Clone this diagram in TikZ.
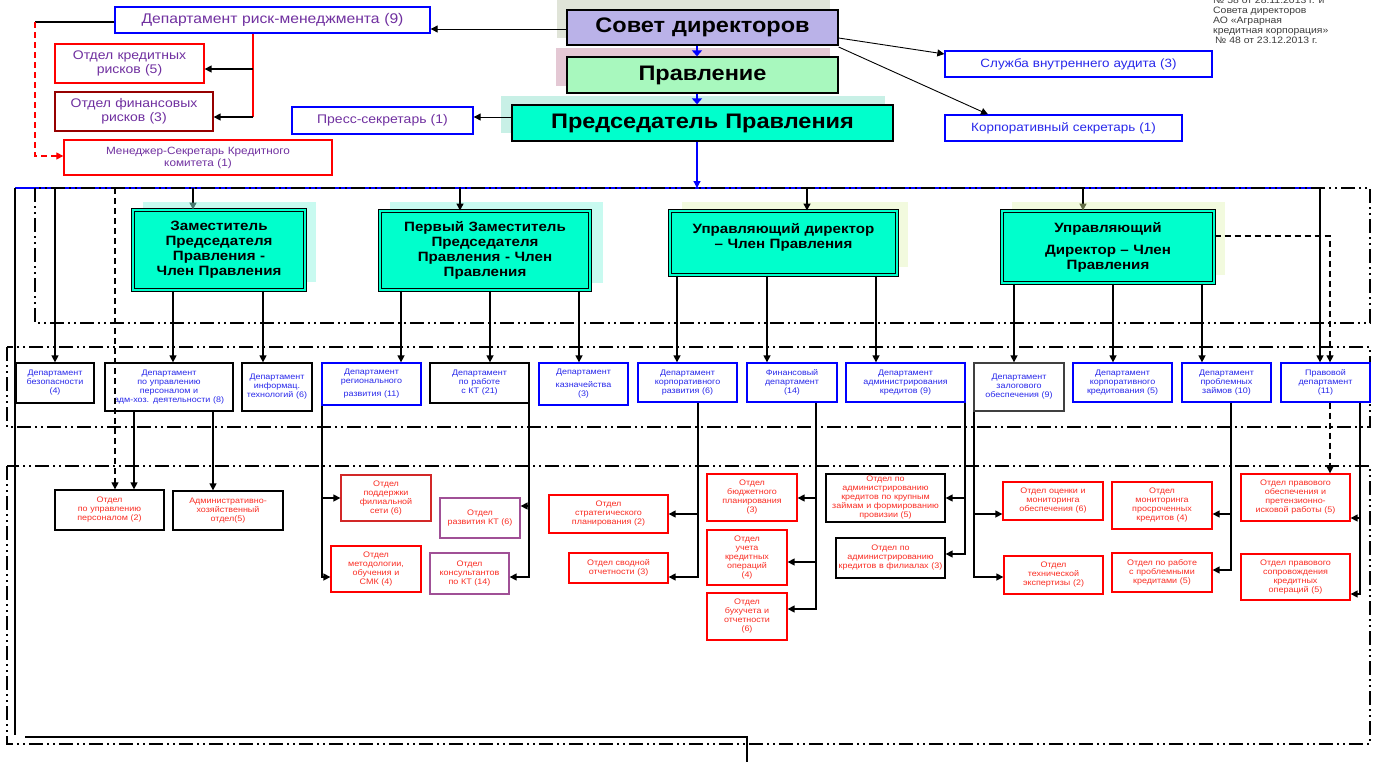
\documentclass[tikz,border=0pt]{standalone}
\usepackage{fontspec}
\setmainfont{Liberation Sans}[FakeStretch=1.12]
\usetikzlibrary{arrows.meta}
\definecolor{blueB}{RGB}{0,0,255}
\definecolor{blueT}{RGB}{40,40,235}
\definecolor{redB}{RGB}{255,0,0}
\definecolor{redT}{RGB}{250,45,35}
\definecolor{purT}{RGB}{112,48,160}
\definecolor{dred}{RGB}{150,0,0}
\definecolor{purB}{RGB}{160,80,150}
\definecolor{secdr}{RGB}{210,40,40}
\definecolor{vpfill}{RGB}{0,255,204}
\definecolor{sovfill}{RGB}{186,178,232}
\definecolor{pravfill}{RGB}{168,248,190}
\definecolor{sovsh}{RGB}{224,228,216}
\definecolor{pravsh}{RGB}{228,200,212}
\definecolor{predsh}{RGB}{200,240,230}
\definecolor{cysh}{RGB}{200,250,240}
\definecolor{ylsh}{RGB}{242,250,222}
\definecolor{hdr}{RGB}{60,60,60}
\definecolor{tealtip}{RGB}{70,120,110}
\definecolor{olivetip}{RGB}{100,110,70}
\newcommand\bx[7]{%
 \pgfmathsetmacro\bxw{#4-#2}\pgfmathsetmacro\bxh{#5-#3}%
 \pgfmathsetmacro\bxcx{(#2+#4)/2}\pgfmathsetmacro\bxcy{(#3+#5)/2}%
 \pgfmathsetmacro\bxtw{#4-#2-4}%
 \node[#6, minimum width=\bxw pt, minimum height=\bxh pt, text width=\bxtw pt] (#1) at (\bxcx,\bxcy) {#7};}
\tikzset{
 every node/.style={inner sep=1pt, align=center},
 dep/.style={draw=blueB, line width=1.3pt, fill=white, font=\fontsize{8}{9}\selectfont, text=blueT},
 depk/.style={dep, draw=black},
 sec/.style={draw=redB, line width=1.3pt, fill=white, font=\fontsize{8}{9}\selectfont, text=redT},
 seck/.style={sec, draw=black},
 secp/.style={sec, draw=purB},
 vp/.style={draw=black, line width=1pt, double=vpfill, double distance=2pt, fill=vpfill, font=\fontsize{13.5}{15}\selectfont\bfseries},
 topb/.style={draw=black, line width=1.3pt, font=\fontsize{21}{24}\selectfont\bfseries},
 riskb/.style={draw=blueB, line width=1.3pt, fill=white, font=\fontsize{12.5}{14.5}\selectfont, text=purT},
 riskr/.style={riskb, draw=redB},
 audb/.style={riskb, text=blueT, font=\fontsize{12}{14}\selectfont},
 ln/.style={line width=1.4pt},
 arr/.style={line width=1.4pt, -{Triangle[length=7pt,width=7pt]}},
 arrthin/.style={line width=0.9pt, -{Triangle[length=7pt,width=7pt]}},
 barr/.style={blueB, line width=2.5pt, -{Triangle[length=6pt,width=10pt]}},
 darr/.style={line width=1.2pt, dash pattern=on 6pt off 4pt, -{Triangle[length=7pt,width=7pt]}},
 rdash/.style={redB, line width=1.2pt, dash pattern=on 6pt off 4pt},
 ddot/.style={line width=1.5pt, dash pattern=on 14pt off 4pt on 2pt off 4pt on 2pt off 4pt},
}
\begin{document}
\begin{tikzpicture}[x=1pt,y=-1pt]
\useasboundingbox (0,0) rectangle (1376,761);
\foreach \v in {15,25,35,55,115,134,173,193,213,253,263,322,401,460,490,529,579,677,697,698,747,767,807,816,876,965,974,988,1014,1083,1113,1202,1231,1320,1330,1360}
  \coordinate (X\v) at (\v,0);
\foreach \v in {22,29,38,47,54,69,117,156,188,236,498,506,514,518,554,562,570,577,594,609,735,737,765}
  \coordinate (Y\v) at (0,\v);
% shadows
\fill[sovsh] (557,0) rectangle (830,38);
\fill[pravsh] (556,48) rectangle (830,86);
\fill[predsh] (501,96) rectangle (885,133);
\fill[cysh] (143,202) rectangle (316,282);
\fill[cysh] (390,202) rectangle (603,283);
\fill[ylsh] (682,202) rectangle (908,267);
\fill[ylsh] (1012,202) rectangle (1225,275);
% header text
\node[anchor=north west, align=left, font=\fontsize{9.3}{10}\selectfont, text=hdr, inner sep=0] (hdr) at (1213,-3.5) {№ 58 от 28.11.2013 г. и\\Совета директоров\\АО «Аграрная\\кредитная корпорация»\\\hspace{2pt}№ 48 от 23.12.2013 г.};
% top boxes
\bx{risk}{115}{7}{430}{33}{riskb, font=\fontsize{14}{16}\selectfont}{Департамент риск-менеджмента (9)}
\bx{kr}{55}{44}{204}{83}{riskr}{Отдел кредитных\\рисков (5)}
\bx{fr}{55}{92}{213}{131}{riskr, draw=dred}{Отдел финансовых\\рисков (3)}
\bx{mgr}{64}{140}{332}{175}{riskr, font=\fontsize{10.5}{12}\selectfont}{Менеджер-Секретарь Кредитного\\комитета (1)}
\bx{press}{292}{107}{473}{134}{riskb}{Пресс-секретарь (1)}
\bx{audit}{945}{51}{1212}{77}{audb}{Служба внутреннего аудита (3)}
\bx{corp}{945}{115}{1182}{141}{audb}{Корпоративный секретарь (1)}
\bx{sov}{567}{10}{838}{45}{topb, fill=sovfill}{Совет директоров}
\bx{pravl}{567}{57}{838}{93}{topb, fill=pravfill}{Правление}
\bx{pred}{512}{105}{893}{141}{topb, fill=vpfill}{Председатель Правления}
% top connectors
\draw[ln] (risk.west |- Y22) -- (X35 |- Y22);
\draw[rdash, -{Triangle[length=7pt,width=7pt]}] (X35 |- Y22) -- (X35 |- Y156) -- (mgr.west |- Y156);
\draw[ln, redB] (risk.south -| X253) -- (X253 |- Y117);
\draw[arr] (X253 |- Y69) -- (kr.east |- Y69);
\draw[arr] (X253 |- Y117) -- (fr.east |- Y117);
\draw[arrthin] (sov.west |- Y29) -- (risk.east |- Y29);
\draw[barr] (sov.south -| X697) -- (pravl.north -| X697);
\draw[barr] (pravl.south -| X697) -- (pred.north -| X697);
\draw[arrthin] (pred.west |- Y117) -- (press.east |- Y117);
\draw[arrthin] (sov.east |- Y38) -- (audit.west |- Y54);
\draw[arrthin] (sov.east |- Y47) -- (corp.north -| X988);
% bus and frames
\draw[blueB, line width=1.5pt] (X15 |- Y188) -- (X1320 |- Y188);
\draw[blueB, line width=1.2pt, -{Triangle[length=7pt,width=7pt]}] (pred.south -| X697) -- (X697 |- Y188);
\draw[ln] (X15 |- Y188) -- (X15 |- Y735);
\draw[ln] (X25 |- Y737) -- (X747 |- Y737) -- (X747 |- Y765);
\draw[ddot] (35,188) rectangle (1370,323);
\draw[ddot] (7,347) rectangle (1370,427);
\draw[ddot] (7,466) rectangle (1370,744);
% VP boxes
\bx{v1}{133}{210}{305}{290}{vp}{Заместитель\\Председателя\\Правления -\\Член Правления}
\bx{v2}{380}{211}{590}{290}{vp}{Первый Заместитель\\Председателя\\Правления - Член\\Правления}
\bx{v3}{670}{211}{897}{275}{vp}{Управляющий директор\\– Член Правления\\\mbox{}}
\bx{v4}{1002}{211}{1214}{283}{vp}{Управляющий\\[7pt]Директор – Член\\Правления}
% departments
\bx{d1}{16}{363}{94}{403}{depk}{Департамент\\безопасности\\(4)}
\bx{d2}{105}{363}{233}{411}{depk}{Департамент\\по управлению\\персоналом и\\адм-хоз. деятельности (8)}
\bx{d3}{242}{363}{312}{411}{depk}{Департамент\\информац.\\технологий (6)}
\bx{d4}{322}{363}{421}{405}{dep}{Департамент\\регионального\\[4pt]развития (11)}
\bx{d5}{430}{363}{529}{403}{depk}{Департамент\\по работе\\с КТ (21)}
\bx{d6}{539}{363}{628}{405}{dep}{Департамент\\[4pt]казначейства\\(3)}
\bx{d7}{638}{363}{737}{402}{dep}{Департамент\\корпоративного\\развития (6)}
\bx{d8}{747}{363}{837}{402}{dep}{Финансовый\\департамент\\(14)}
\bx{d9}{846}{363}{965}{402}{dep}{Департамент\\администрирования\\кредитов (9)}
\bx{d10}{974}{363}{1064}{411}{depk, draw=darkgray}{Департамент\\залогового\\обеспечения (9)}
\bx{d11}{1073}{363}{1172}{402}{dep}{Департамент\\корпоративного\\кредитования (5)}
\bx{d12}{1182}{363}{1271}{402}{dep}{Департамент\\проблемных\\займов (10)}
\bx{d13}{1281}{363}{1370}{402}{dep}{Правовой\\департамент\\(11)}
% sections
\bx{s1}{55}{490}{164}{530}{seck}{Отдел\\по управлению\\персоналом (2)}
\bx{s2}{173}{491}{283}{530}{seck}{Административно-\\хозяйственный\\отдел(5)}
\bx{s3}{341}{475}{431}{521}{sec, draw=secdr}{Отдел\\поддержки\\филиальной\\сети (6)}
\bx{s4}{331}{546}{421}{592}{sec}{Отдел\\методологии,\\обучения и\\СМК (4)}
\bx{s5}{440}{498}{520}{538}{secp}{Отдел\\развития КТ (6)}
\bx{s6}{430}{553}{509}{594}{secp}{Отдел\\консультантов\\по КТ (14)}
\bx{s7}{549}{495}{668}{533}{sec}{Отдел\\стратегического\\планирования (2)}
\bx{s8}{569}{553}{668}{583}{sec}{Отдел сводной\\отчетности (3)}
\bx{s9}{707}{474}{797}{521}{sec}{Отдел\\бюджетного\\планирования\\(3)}
\bx{s10}{707}{530}{787}{585}{sec}{Отдел\\учета\\кредитных\\операций\\(4)}
\bx{s11}{707}{593}{787}{640}{sec}{Отдел\\бухучета и\\отчетности\\(6)}
\bx{s12}{826}{474}{945}{522}{seck}{Отдел по\\администрированию\\кредитов по крупным\\займам и формированию\\провизии (5)}
\bx{s13}{836}{538}{945}{578}{seck}{Отдел по\\администрированию\\кредитов в филиалах (3)}
\bx{s14}{1003}{482}{1103}{520}{sec}{Отдел оценки и\\мониторинга\\обеспечения (6)}
\bx{s15}{1004}{556}{1103}{594}{sec}{Отдел\\технической\\экспертизы (2)}
\bx{s16}{1112}{482}{1212}{529}{sec}{Отдел\\мониторинга\\просроченных\\кредитов (4)}
\bx{s17}{1112}{553}{1212}{592}{sec}{Отдел по работе\\с проблемными\\кредитами (5)}
\bx{s18}{1241}{474}{1350}{521}{sec}{Отдел правового\\обеспечения и\\претензионно-\\исковой работы (5)}
\bx{s19}{1241}{554}{1350}{600}{sec}{Отдел правового\\сопровождения\\кредитных\\операций (5)}
% bus -> VP and departments
\draw[line width=1.4pt, -{Triangle[length=7pt,width=7pt,color=tealtip]}] (X193 |- Y188) -- (v1.north -| X193);
\draw[arr] (X460 |- Y188) -- (v2.north -| X460);
\draw[arr] (X807 |- Y188) -- (v3.north -| X807);
\draw[line width=1.4pt, -{Triangle[length=7pt,width=7pt,color=olivetip]}] (X1083 |- Y188) -- (v4.north -| X1083);
\draw[arr] (X55 |- Y188) -- (d1.north -| X55);
\draw[darr] (X115 |- Y188) -- (s1.north -| X115);
\draw[arr] (X1320 |- Y188) -- (d13.north -| X1320);
% VP -> departments
\draw[arr] (v1.south -| X173) -- (d2.north -| X173);
\draw[arr] (v1.south -| X263) -- (d3.north -| X263);
\draw[arr] (v2.south -| X401) -- (d4.north -| X401);
\draw[arr] (v2.south -| X490) -- (d5.north -| X490);
\draw[arr] (v2.south -| X579) -- (d6.north -| X579);
\draw[arr] (v3.south -| X677) -- (d7.north -| X677);
\draw[arr] (v3.south -| X767) -- (d8.north -| X767);
\draw[arr] (v3.south -| X876) -- (d9.north -| X876);
\draw[arr] (v4.south -| X1014) -- (d10.north -| X1014);
\draw[arr] (v4.south -| X1113) -- (d11.north -| X1113);
\draw[arr] (v4.south -| X1202) -- (d12.north -| X1202);
\draw[darr] (v4.east |- Y236) -| (d13.north -| X1330);
\draw[darr] (d13.south -| X1330) -- (s18.north -| X1330);
% departments -> sections
\draw[arr] (d2.south -| X134) -- (s1.north -| X134);
\draw[arr] (d2.south -| X213) -- (s2.north -| X213);
\draw[arr] (d4.south -| X322) |- (s4.west |- Y577);
\draw[arr] (X322 |- Y498) -- (s3.west |- Y498);
\draw[arr] (d5.south -| X529) |- (s6.east |- Y577);
\draw[arr] (X529 |- Y506) -- (s5.east |- Y506);
\draw[arr] (d7.south -| X698) |- (s8.east |- Y577);
\draw[arr] (X698 |- Y514) -- (s7.east |- Y514);
\draw[arr] (d8.south -| X816) |- (s11.east |- Y609);
\draw[arr] (X816 |- Y498) -- (s9.east |- Y498);
\draw[arr] (X816 |- Y562) -- (s10.east |- Y562);
\draw[arr] (d9.south -| X965) |- (s13.east |- Y554);
\draw[arr] (X965 |- Y498) -- (s12.east |- Y498);
\draw[arr] (d10.south -| X974) |- (s15.west |- Y577);
\draw[arr] (X974 |- Y514) -- (s14.west |- Y514);
\draw[arr] (d12.south -| X1231) |- (s17.east |- Y570);
\draw[arr] (X1231 |- Y514) -- (s16.east |- Y514);
\draw[arr] (d13.south -| X1360) |- (s19.east |- Y594);
\draw[arr] (X1360 |- Y518) -- (s18.east |- Y518);
\end{tikzpicture}
\end{document}
